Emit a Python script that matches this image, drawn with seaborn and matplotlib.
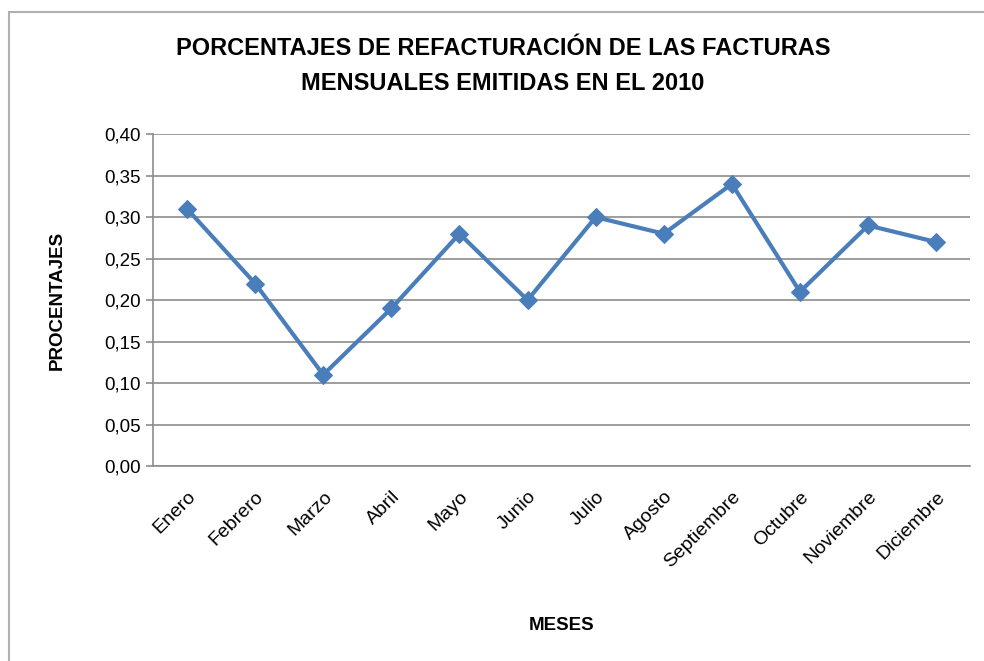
import seaborn as sns
import matplotlib
matplotlib.use("Agg")
import matplotlib.pyplot as plt
import matplotlib.patches as patches
import pandas as pd
from matplotlib.ticker import FuncFormatter, MultipleLocator

meses = ["Enero", "Febrero", "Marzo", "Abril", "Mayo", "Junio", "Julio",
         "Agosto", "Septiembre", "Octubre", "Noviembre", "Diciembre"]
porcentajes = [0.31, 0.22, 0.11, 0.19, 0.28, 0.20, 0.30, 0.28, 0.34, 0.21, 0.29, 0.27]

df = pd.DataFrame({"mes": meses, "valor": porcentajes})

sns.set_style("white")
plt.rcParams["font.family"] = ["Liberation Sans", "DejaVu Sans"]
plt.rcParams["text.color"] = "black"
plt.rcParams["xtick.color"] = "black"
plt.rcParams["ytick.color"] = "black"
plt.rcParams["axes.labelcolor"] = "black"

fig = plt.figure(figsize=(9.84, 6.61), dpi=100)
ax = fig.add_axes([0.1555, 0.295, 0.8305, 0.502])

sns.lineplot(data=df, x="mes", y="valor", ax=ax, sort=False,
             color="#4A7EBB", linewidth=3, marker="D", markersize=9,
             markeredgecolor="#4A7EBB")

ax.set_xlim(-0.5, len(meses) - 0.5)
ax.set_ylim(0, 0.40)
ax.yaxis.set_major_locator(MultipleLocator(0.05))
ax.yaxis.set_major_formatter(FuncFormatter(lambda v, p: f"{v:.2f}".replace(".", ",")))
ax.grid(axis="y", color="#8c8c8c", linewidth=1.2)
ax.set_axisbelow(True)

# marcas en los límites de categoría, etiquetas en el centro
ax.set_xticks(range(len(meses)))
ax.set_xticklabels(meses, rotation=45, ha="right", rotation_mode="anchor",
                   fontsize=14)
ax.tick_params(axis="x", length=0, pad=16, colors="black")
ax.set_xticks([i - 0.5 for i in range(len(meses) + 1)], minor=True)
ax.tick_params(axis="x", which="minor", length=6, color="#8c8c8c", width=1.2)
ax.tick_params(axis="y", length=5, color="#8c8c8c", width=1.2, labelsize=13.5,
               pad=4, direction="out", left=True, labelcolor="black")

for s in ["top", "right"]:
    ax.spines[s].set_visible(False)
for s in ["left", "bottom"]:
    ax.spines[s].set_color("#8c8c8c")
    ax.spines[s].set_linewidth(1.2)

ax.set_xlabel("MESES", fontsize=13.5, fontweight="bold", labelpad=0)
ax.xaxis.set_label_coords(0.5, -0.455)
ax.set_ylabel("PROCENTAJES", fontsize=13.5, fontweight="bold")
ax.yaxis.set_label_coords(-0.107, 0.5)

fig.text(0.511, 0.9, "PORCENTAJES DE REFACTURACIÓN DE LAS FACTURAS\nMENSUALES EMITIDAS EN EL 2010",
         ha="center", va="center", fontsize=17, fontweight="bold", linespacing=1.7)

fig.patches.append(patches.Rectangle((9 / 984, -0.05), 1.05, 1 - 12 / 661 + 0.05,
                                     transform=fig.transFigure, fill=False,
                                     edgecolor="#b0b0b0", linewidth=1.5))

fig.savefig("out.png", dpi=100)
